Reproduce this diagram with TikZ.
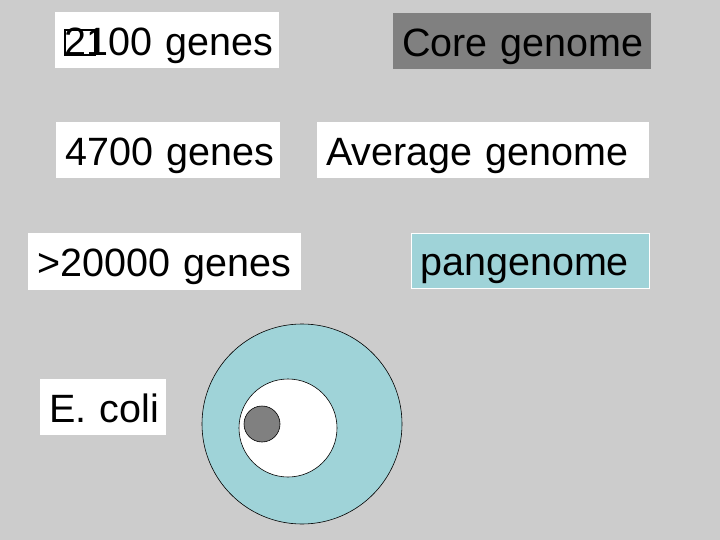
\documentclass[tikz,border=0pt]{standalone}
\usepackage{fontspec}
\setmainfont{Liberation Sans}
\usepackage{xcolor}
\definecolor{bggray}{RGB}{204,204,204}
\definecolor{coregray}{RGB}{128,128,128}
\definecolor{panblue}{RGB}{159,211,216}
\newcommand{\tofubox}{\makebox[0pt][l]{\raisebox{1pt}{\setlength{\fboxsep}{0pt}\setlength{\fboxrule}{2pt}\fbox{\rule{0pt}{23pt}\hspace{28pt}}}}}

\begin{document}
\begin{tikzpicture}[x=1pt,y=-1pt]
			\tikzset{
				gene box/.style={
						anchor=north west,
						fill=white,
						inner xsep=9pt, inner ysep=0pt,
						align=left,
						text width=#1,
						minimum height=56pt,
						text height=30pt, text depth=0pt,
						font=\fontsize{39.5}{40}\selectfont,
					},
				set circle/.style={circle, draw=black, line width=0.6pt, inner sep=0pt},
			}
			\fill[bggray] (0,0) rectangle (720,540);
			\useasboundingbox (0,0) rectangle (720,540);
			%
			\node[gene box=206pt] at (55,12) (n2100) {\mbox{\tofubox2100 genes}};
			\node[gene box=206pt] at (56,122) (n4700) {\mbox{4700 genes}};
			\node[gene box=255pt, minimum height=57pt] at (28,233) (n20000) {\mbox{>20000 genes}};
			\node[gene box=108pt] at (40,379) (ecoli) {\mbox{E. coli}};
			%
			\node[gene box=240pt, fill=coregray] at (393,13) (core) {\mbox{Core genome}};
			\node[gene box=314pt] at (317,122) (avg) {\mbox{Average genome}};
			\node[gene box=220pt, minimum height=55pt, fill=panblue, draw=white, line width=0.6pt] at (411,233) (pan) {\mbox{pangenome}};
			%
			\node[set circle, fill=panblue, minimum size=200pt] at (302,424) (pan circle) {};
			\node[set circle, fill=white, minimum size=98pt] at (288,428) (avg circle) {};
			\node[set circle, fill=coregray, minimum size=36pt] at (262,424) (core circle) {};
\end{tikzpicture}
\end{document}
